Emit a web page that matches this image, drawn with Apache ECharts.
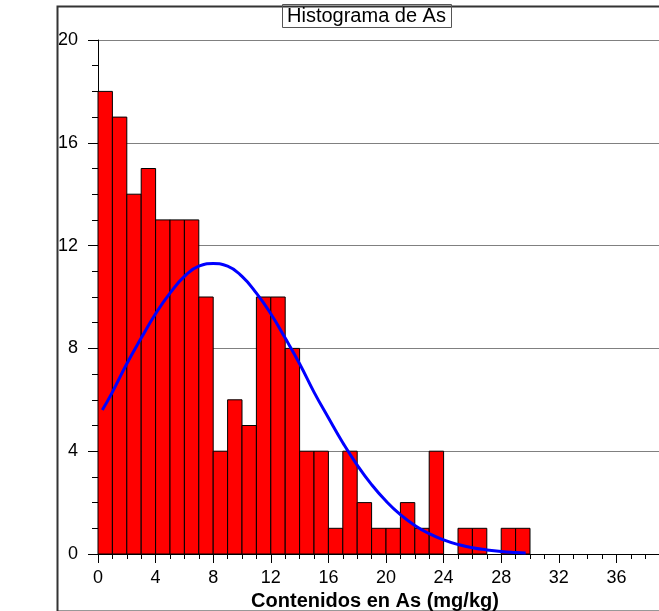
<!DOCTYPE html>
<html>
<head>
<meta charset="utf-8">
<script src="https://cdn.jsdelivr.net/npm/echarts@6/dist/echarts.min.js"></script>
<style>
html,body{margin:0;padding:0;background:#fff;}
#chart{width:659px;height:611px;}
</style>
</head>
<body>
<div id="chart"></div>
<script>
// Histogram bins (lower edge, upper edge) and counts
var binStart = [0,1,2,3,4,5,6,7,8,9,10,11,12,13,14,15,16,17,18,19,20,21,22,23,24,25,26,27,28,29];
var binEnd   = [1,2,3,4,5,6,7,8,9,10,11,12,13,14,15,16,17,18,19,20,21,22,23,24,25,26,27,28,29,30];
var counts   = [18,17,14,15,13,13,13,10,4,6,5,10,10,8,4,4,1,4,2,1,1,2,1,4,0,1,1,0,1,1];

// Fitted curve
var curveX = [0.3,1,2,3,4,5,6,7,8,9,10,11,12,13,14,15,16,17,18,19,20,21,22,23,24,25,26,27,28,29,29.7];
var curveY = [5.6,6.3,7.4,8.4,9.35,10.15,10.8,11.2,11.3,11.2,10.8,10.15,9.35,8.4,7.4,6.3,5.3,4.33,3.46,2.7,2.06,1.53,1.11,0.79,0.55,0.37,0.24,0.16,0.1,0.06,0.04];

var titleText = 'Histograma de As';
var xName = 'Contenidos en As (mg/kg)';

var histData = [];
for (var i = 0; i < counts.length; i++) histData.push([binStart[i], binEnd[i], counts[i]]);
var lineData = [];
for (var j = 0; j < curveX.length; j++) lineData.push([curveX[j], curveY[j]]);

var chart = echarts.init(document.getElementById('chart'), null, {renderer: 'canvas'});
var font = '"Liberation Sans", Arial, sans-serif';
chart.setOption({
  backgroundColor: '#ffffff',
  animation: false,
  title: {
    text: titleText,
    left: 282, top: 4,
    padding: [2, 6, 2, 5],
    borderColor: '#555555', borderWidth: 1,
    textStyle: {fontFamily: font, fontSize: 20, fontWeight: 'normal', color: '#000'}
  },
  graphic: [{
    type: 'rect', left: 55, top: 4, z: -1, silent: true,
    shape: {width: 700, height: 605},
    style: {fill: 'none', stroke: '#333333', lineWidth: 2}
  }],
  grid: {left: 98, right: -15, top: 40, bottom: 57, containLabel: false, outerBoundsMode: 'none'},
  xAxis: {
    type: 'value', min: 0, max: 40, interval: 4,
    name: xName, nameLocation: 'middle', nameGap: 34,
    nameTextStyle: {fontFamily: font, fontSize: 20, fontWeight: 'bold', color: '#000', padding: [0, 22, 0, 0]},
    axisLine: {show: true, lineStyle: {color: '#000', width: 1}},
    axisTick: {show: true, length: 9, lineStyle: {color: '#000'}},
    minorTick: {show: true, splitNumber: 4, length: 5, lineStyle: {color: '#000'}},
    axisLabel: {fontFamily: font, fontSize: 18, color: '#000', margin: 15},
    splitLine: {show: false}
  },
  yAxis: {
    type: 'value', min: 0, max: 20, interval: 4,
    axisLine: {show: true, lineStyle: {color: '#000', width: 1}},
    axisTick: {show: true, length: 10, lineStyle: {color: '#000'}},
    minorTick: {show: true, splitNumber: 4, length: 6, lineStyle: {color: '#000'}},
    axisLabel: {fontFamily: font, fontSize: 18, color: '#000', margin: 20},
    splitLine: {show: true, lineStyle: {color: '#808080', width: 1}}
  },
  series: [{
    type: 'custom',
    data: histData,
    encode: {x: [0, 1], y: 2},
    renderItem: function (params, api) {
      var v = api.value(2);
      if (!v) return null;
      var p0 = api.coord([api.value(0), v]);
      var p1 = api.coord([api.value(1), 0]);
      return {
        type: 'rect',
        shape: {x: p0[0], y: p0[1], width: p1[0] - p0[0], height: p1[1] - p0[1]},
        style: {fill: '#ff0000', stroke: '#000000', lineWidth: 1}
      };
    },
    z: 2
  }, {
    type: 'line',
    data: lineData,
    smooth: true,
    showSymbol: false,
    lineStyle: {color: '#0000ff', width: 3},
    z: 3
  }]
});
</script>
</body>
</html>
